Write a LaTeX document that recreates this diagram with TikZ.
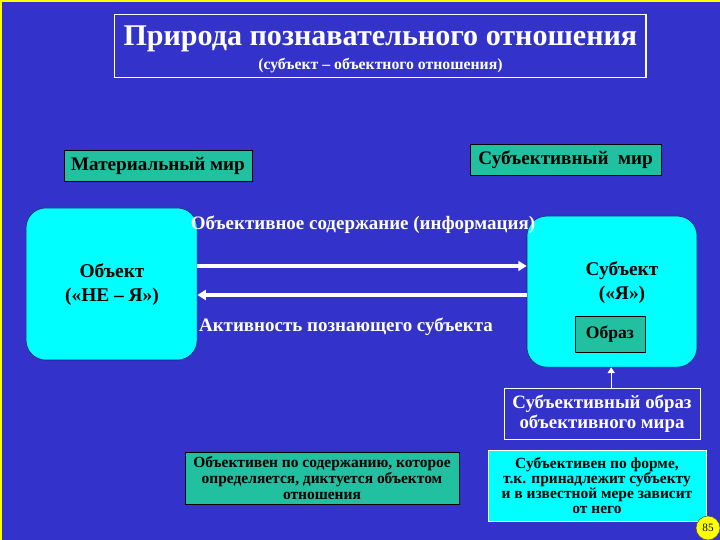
\documentclass[tikz,border=0pt]{standalone}
\usepackage{fontspec}
\setmainfont{Liberation Serif}
\definecolor{slideblue}{HTML}{3333CC}
\definecolor{seagreen}{HTML}{20C0A0}
\definecolor{aqua}{HTML}{00FFFF}
\definecolor{edgeyellow}{HTML}{FFFF00}
\usetikzlibrary{arrows.meta,positioning,calc}

\begin{document}
\begin{tikzpicture}[
    font=\bfseries,
    greenbox/.style={draw=black,fill=seagreen,text=black,inner sep=0pt,line width=0.6pt},
    aquabox/.style={draw=slideblue!60!black,fill=aqua,rounded corners=14pt,inner sep=0pt},
    flow/.style={draw=white,line width=2.2pt,-{Triangle[width=7pt,length=6pt]}},
  ]
    \useasboundingbox (0,0) rectangle (18,13.5);
    \fill[slideblue] (0,0) rectangle (18,13.5);
    \fill[edgeyellow] (0,0) rectangle (0.06,13.5);
    \fill[edgeyellow] (0,13.44) rectangle (18,13.5);
    % title
    \node[draw=white,line width=0.8pt,minimum width=13.28cm,minimum height=1.575cm] (title) at (9.51,12.36) {};
    \node[text=white,font=\bfseries\fontsize{21.4}{23}\selectfont] (titletext) at (9.51,12.52) {Природа познавательного отношения};
    \node[text=white,font=\bfseries\fontsize{11.2}{12}\selectfont] (subtitle) at (9.51,11.85) {(субъект – объектного отношения)};
    % worlds
    \node[greenbox,minimum width=4.7cm,minimum height=0.775cm,font=\bfseries\fontsize{13.6}{15}\selectfont] (matworld) at (3.95,9.34) {Материальный мир};
    \node[greenbox,minimum width=4.78cm,minimum height=0.775cm,font=\bfseries\fontsize{13.6}{15}\selectfont] (subworld) at (14.14,9.51) {Субъективный~~мир};
    % object and subject
    \node[aquabox,minimum width=4.275cm,minimum height=3.8cm] (obj) at (2.79,6.4) {};
    \node[aquabox,minimum width=4.25cm,minimum height=3.775cm] (subj) at (15.3,6.21) {};
    \node[align=center,font=\bfseries\fontsize{13.8}{17}\selectfont] (objtext) at (2.8,6.38) {Объект\\(«НЕ – Я»)};
    \node[align=center,font=\bfseries\fontsize{13.8}{17}\selectfont] (subjtext) at (15.55,6.43) {Субъект\\(«Я»)};
    \node[greenbox,minimum width=1.75cm,minimum height=0.9cm,font=\bfseries\fontsize{12.5}{14}\selectfont] (image) at (15.25,5.15) {Образ};
    % arrows between them
    \draw[flow] (obj.east |- 0,6.85) -- (subj.west |- 0,6.85);
    \draw[flow] (subj.west |- 0,6.125) -- (obj.east |- 0,6.125);
    \node[text=white,font=\bfseries\fontsize{13.5}{15}\selectfont] (info) at (9.075,7.875) {Объективное содержание (информация)};
    \node[text=white,font=\bfseries\fontsize{13.5}{15}\selectfont] (activity) at (8.65,5.325) {Активность познающего субъекта};
    % subjective image of the world
    \node[draw=white,line width=0.6pt,text=white,align=center,minimum width=4.9cm,minimum height=1.275cm,inner sep=0pt,font=\bfseries\fontsize{13.4}{14}\selectfont] (subimage) at (15.05,3.16) {Субъективный образ\\объективного мира};
    \draw[white,line width=0.6pt,-{Triangle[width=5pt,length=4pt]}] (subimage.north -| 15.28,0) -- (subj.south -| 15.28,0);
    % bottom notes
    \node[greenbox,align=center,minimum width=6.85cm,minimum height=1.3cm,font=\bfseries\fontsize{11}{11.2}\selectfont] (objnote) at (8.05,1.55) {Объективен по содержанию, которое\\определяется, диктуется объектом\\отношения};
    \node[draw=white,fill=aqua,align=center,inner sep=0pt,minimum width=5.45cm,minimum height=1.775cm,font=\bfseries\fontsize{11}{10.8}\selectfont] (subjnote) at (14.925,1.36) {Субъективен по форме,\\т.к. принадлежит субъекту\\и в известной мере зависит\\от него};
    % page number
    \node[circle,fill=edgeyellow,draw=black!70,inner sep=0pt,minimum size=0.6cm,font=\fontsize{8}{9}\selectfont] (pagenum) at (17.7,0.3) {85};
\end{tikzpicture}
\end{document}
